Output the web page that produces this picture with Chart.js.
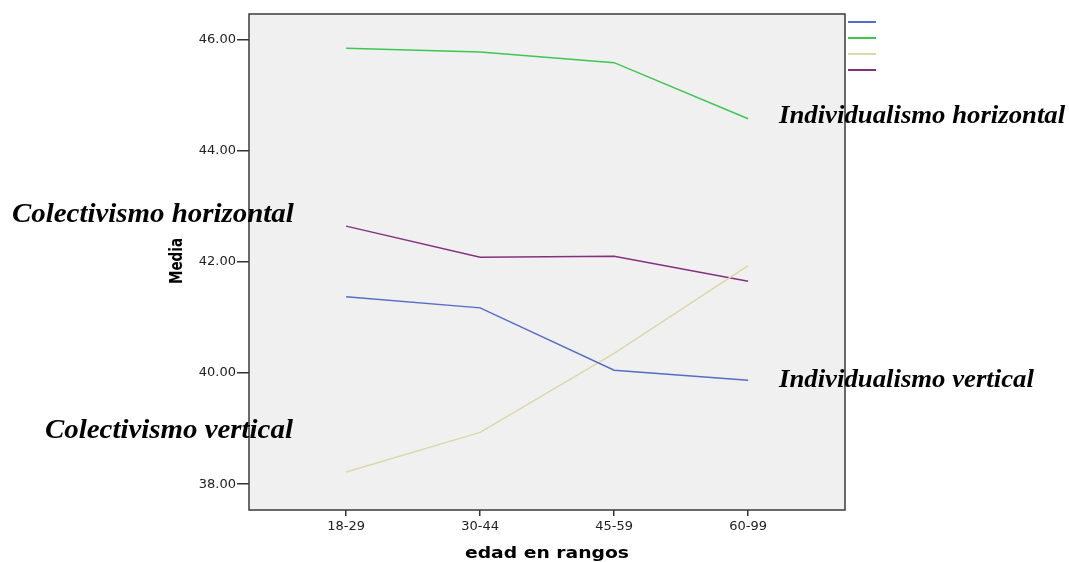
<!DOCTYPE html>
<html lang="es">
<head>
  <meta charset="UTF-8">
  <title>Media por edad en rangos</title>
  <script src="https://cdn.jsdelivr.net/npm/chart.js"></script>
  <style>
    html, body { margin: 0; padding: 0; background: #fff; }
    .grafico { position: relative; width: 1069px; height: 562px; }
  </style>
</head>
<body>
<div class="grafico">
  <canvas id="myChart" width="1069" height="562"></canvas>
</div>
<script>
  // rangos de edad (eje x)
  var rangos = ['18-29', '30-44', '45-59', '60-99'];

  // medias
  var indVertical   = [41.37, 41.17, 40.05, 39.87];
  var indHorizontal = [45.84, 45.77, 45.58, 44.57];
  var colVertical   = [38.22, 38.93, 40.35, 41.93];
  var colHorizontal = [42.64, 42.08, 42.10, 41.65];

  var ticksMedia = [38, 40, 42, 44, 46];

  // etiquetas escritas sobre la figura
  var etiquetas = [
    { texto: 'Individualismo horizontal', x: 779, y: 123, t: 25 },
    { texto: 'Colectivismo horizontal', x: 12, y: 222, t: 27 },
    { texto: 'Individualismo vertical', x: 779, y: 387, t: 25 },
    { texto: 'Colectivismo vertical', x: 45, y: 438, t: 27 }
  ];

  function puntos(valores) {
    return valores.map(function (v, i) { return { x: i, y: v }; });
  }

  var series = [
    { label: 'Individualismo vertical', data: puntos(indVertical), borderColor: '#566cc6' },
    { label: 'Individualismo horizontal', data: puntos(indHorizontal), borderColor: '#3fc651' },
    { label: 'Colectivismo vertical', data: puntos(colVertical), borderColor: '#dcd8a8' },
    { label: 'Colectivismo horizontal', data: puntos(colHorizontal), borderColor: '#85307f' }
  ];
  series.forEach(function (s) {
    s.borderWidth = 1.5;
    s.pointRadius = 0;
    s.fill = false;
    s.tension = 0;
  });

  // texto estirado en horizontal (la figura original esta ensanchada)
  function textoAncho(ctx, s, x, y, sx, rot) {
    ctx.save();
    ctx.translate(x, y);
    ctx.scale(sx, 1);
    if (rot) ctx.rotate(rot);
    ctx.fillText(s, 0, 0);
    ctx.restore();
  }

  // fondo gris del area del grafico
  const fondo = {
    id: 'fondo',
    beforeDraw: function (chart) {
      var a = chart.chartArea, ctx = chart.ctx;
      ctx.save();
      ctx.fillStyle = '#f0f0f0';
      ctx.fillRect(a.left, a.top, a.right - a.left, a.bottom - a.top);
      ctx.restore();
    }
  };

  // marco, leyenda sin texto, titulos de ejes y etiquetas en cursiva
  const extras = {
    id: 'extras',
    afterDraw: function (chart) {
      var a = chart.chartArea, ctx = chart.ctx;
      ctx.save();
      ctx.strokeStyle = '#3a3a3a';
      ctx.lineWidth = 1.5;
      ctx.strokeRect(a.left, a.top, a.right - a.left, a.bottom - a.top);

      chart.data.datasets.forEach(function (ds, i) {
        ctx.strokeStyle = ds.borderColor;
        ctx.lineWidth = 2;
        ctx.beginPath();
        ctx.moveTo(a.right + 3, 22 + i * 16);
        ctx.lineTo(a.right + 31, 22 + i * 16);
        ctx.stroke();
      });

      ctx.fillStyle = '#000';
      ctx.font = 'bold 15px "DejaVu Sans"';
      ctx.textAlign = 'center';
      ctx.textBaseline = 'alphabetic';
      textoAncho(ctx, 'edad en rangos', (a.left + a.right) / 2, 558, 1.25);

      ctx.font = 'bold 13.5px "DejaVu Sans"';
      ctx.textBaseline = 'middle';
      textoAncho(ctx, 'Media', 177.5, 261, 1.25, -Math.PI / 2);

      ctx.textAlign = 'left';
      ctx.textBaseline = 'alphabetic';
      etiquetas.forEach(function (e) {
        ctx.font = 'italic bold ' + e.t + 'px "Liberation Serif"';
        textoAncho(ctx, e.texto, e.x, e.y, 1.07);
      });
      ctx.restore();
    }
  };

  const config = {
    type: 'line',
    data: { datasets: series },
    options: {
      responsive: false,
      animation: false,
      layout: { padding: { left: 168, right: 224, top: 14, bottom: 0 } },
      plugins: { legend: { display: false }, tooltip: { enabled: false } },
      scales: {
        x: {
          type: 'linear',
          min: -0.725,
          max: 3.723,
          afterFit: function (s) { s.height = 52; },
          afterBuildTicks: function (s) {
            s.ticks = rangos.map(function (r, i) { return { value: i }; });
          },
          ticks: {
            callback: function (v) { return rangos[v]; },
            color: '#222',
            font: { family: '"DejaVu Sans"', size: 13 },
            padding: 3,
            maxRotation: 0
          },
          grid: { drawOnChartArea: false, tickLength: 6, color: '#333', lineWidth: 1.5 },
          border: { display: false }
        },
        y: {
          min: 37.535,
          max: 46.455,
          afterFit: function (s) { s.width = 81; },
          afterBuildTicks: function (s) {
            s.ticks = ticksMedia.map(function (v) { return { value: v }; });
          },
          ticks: {
            callback: function (v) { return v.toFixed(2); },
            color: '#222',
            font: { family: '"DejaVu Sans"', size: 13 },
            padding: 1
          },
          grid: { drawOnChartArea: false, tickLength: 12, color: '#333', lineWidth: 1.5 },
          border: { display: false }
        }
      }
    },
    plugins: [fondo, extras]
  };

  let myChart = new Chart(document.getElementById('myChart'), config);
</script>
</body>
</html>
